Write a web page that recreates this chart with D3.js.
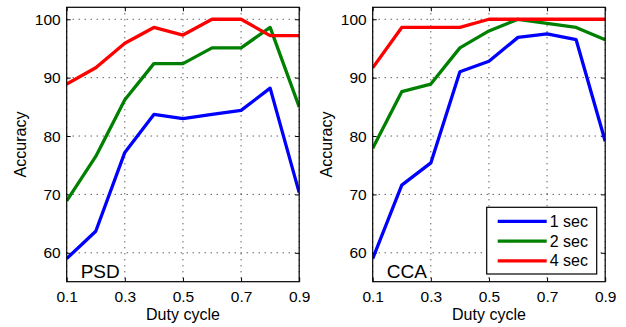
<!DOCTYPE html>
<html>
<head>
<meta charset="utf-8">
<script src="https://cdn.jsdelivr.net/npm/d3@7"></script>
<style>
  body { margin: 0; background: #fff; }
  svg { font-family: "Liberation Sans", Arial, sans-serif; }
</style>
</head>
<body>
<div id="chart"></div>
<script>
const dutyCycle = [0.1, 0.2, 0.3, 0.4, 0.5, 0.6, 0.7, 0.8, 0.9];
const xTicks = [0.1, 0.3, 0.5, 0.7, 0.9];
const yTicks = [60, 70, 80, 90, 100];
const seriesNames = ["1 sec", "2 sec", "4 sec"];
const seriesColors = ["#0000ff", "#008000", "#ff0000"];

// PSD panel
const psd1 = [59.0, 63.7, 77.2, 83.7, 83.0, 83.7, 84.4, 88.2, 70.3];
const psd2 = [68.9, 76.5, 86.2, 92.4, 92.4, 95.1, 95.1, 98.6, 85.0];
const psd4 = [88.9, 91.7, 95.9, 98.6, 97.3, 100, 100, 97.2, 97.2];

// CCA panel
const cca1 = [59.0, 71.6, 75.4, 91.0, 92.8, 96.9, 97.5, 96.5, 79.1];
const cca2 = [77.9, 87.6, 88.9, 95.1, 98.0, 100, 99.3, 98.6, 96.5];
const cca4 = [91.7, 98.6, 98.6, 98.6, 100, 100, 100, 100, 100];

const panels = [
  { name: "PSD", left: 66.7, series: [psd1, psd2, psd4], legend: false },
  { name: "CCA", left: 372.7, series: [cca1, cca2, cca4], legend: true },
];

const W = 626, H = 327;
const TOP = 7.3, BOTTOM = 281.7, PW = 232.5;

const svg = d3.select("#chart").append("svg")
  .attr("width", W).attr("height", H);

const y = d3.scaleLinear().domain([55.05, 102.05]).range([BOTTOM, TOP]);

panels.forEach(p => {
  const x = d3.scaleLinear().domain([0.1, 0.9]).range([p.left, p.left + PW]);
  const g = svg.append("g");

  // dotted grid
  g.selectAll(".vgrid").data(xTicks).join("line")
    .attr("x1", d => x(d)).attr("x2", d => x(d))
    .attr("y1", TOP).attr("y2", BOTTOM)
    .attr("stroke", "#000").attr("stroke-width", 0.9)
    .attr("stroke-dasharray", "1,5");
  g.selectAll(".hgrid").data(yTicks).join("line")
    .attr("x1", p.left).attr("x2", p.left + PW)
    .attr("y1", d => y(d)).attr("y2", d => y(d))
    .attr("stroke", "#000").attr("stroke-width", 0.9)
    .attr("stroke-dasharray", "1,5");

  // axes (ticks inward)
  g.append("g").attr("transform", `translate(0,${BOTTOM})`)
    .call(d3.axisBottom(x).tickValues(xTicks).tickSize(-4).tickPadding(9)
      .tickFormat(d3.format(".1f")));
  g.append("g").attr("transform", `translate(${p.left},0)`)
    .call(d3.axisLeft(y).tickValues(yTicks).tickSize(-4).tickPadding(6));
  g.append("g").attr("transform", `translate(0,${TOP})`)
    .call(d3.axisTop(x).tickValues(xTicks).tickSize(-4).tickFormat(""));
  g.append("g").attr("transform", `translate(${p.left + PW},0)`)
    .call(d3.axisRight(y).tickValues(yTicks).tickSize(-4).tickFormat(""));

  g.selectAll(".domain").remove();
  g.selectAll(".tick text").attr("font-size", 15.5).attr("fill", "#000")
    .attr("font-family", "Liberation Sans, Arial, sans-serif");
  g.selectAll(".tick line").attr("stroke", "#000");

  // lines
  const line = d3.line().x((d, i) => x(dutyCycle[i])).y(d => y(d));
  const clipId = "clip-" + p.name;
  g.append("clipPath").attr("id", clipId).append("rect")
    .attr("x", p.left).attr("y", TOP).attr("width", PW).attr("height", BOTTOM - TOP);
  g.append("g").attr("clip-path", `url(#${clipId})`)
    .selectAll("path").data(p.series).join("path")
    .attr("d", line)
    .attr("fill", "none")
    .attr("stroke", (d, i) => seriesColors[i])
    .attr("stroke-width", 3.3)
    .attr("stroke-linejoin", "round");

  // box
  g.append("rect").attr("x", p.left).attr("y", TOP)
    .attr("width", PW).attr("height", BOTTOM - TOP)
    .attr("fill", "none").attr("stroke", "#000").attr("stroke-width", 1.2);

  // panel label
  g.append("text").attr("x", p.left + 14).attr("y", BOTTOM - 3.5)
    .attr("font-size", 19).text(p.name);

  // axis labels
  g.append("text").attr("x", p.left + PW / 2).attr("y", 320)
    .attr("text-anchor", "middle").attr("font-size", 16).text("Duty cycle");
  g.append("text")
    .attr("transform", `translate(${p.left - 41},${(TOP + BOTTOM) / 2}) rotate(-90)`)
    .attr("text-anchor", "middle").attr("font-size", 16).text("Accuracy");

  if (p.legend) {
    const lg = g.append("g").attr("transform", "translate(486.7,207.3)");
    lg.append("rect").attr("width", 110).attr("height", 66.7)
      .attr("fill", "#fff").attr("stroke", "#000").attr("stroke-width", 1.2);
    seriesNames.forEach((n, i) => {
      const ry = 14 + i * 19.8;
      lg.append("line").attr("x1", 11).attr("x2", 60)
        .attr("y1", ry).attr("y2", ry)
        .attr("stroke", seriesColors[i]).attr("stroke-width", 3.3);
      lg.append("text").attr("x", 63).attr("y", ry + 5.5)
        .attr("font-size", 16).text(n);
    });
  }
});
</script>
</body>
</html>
